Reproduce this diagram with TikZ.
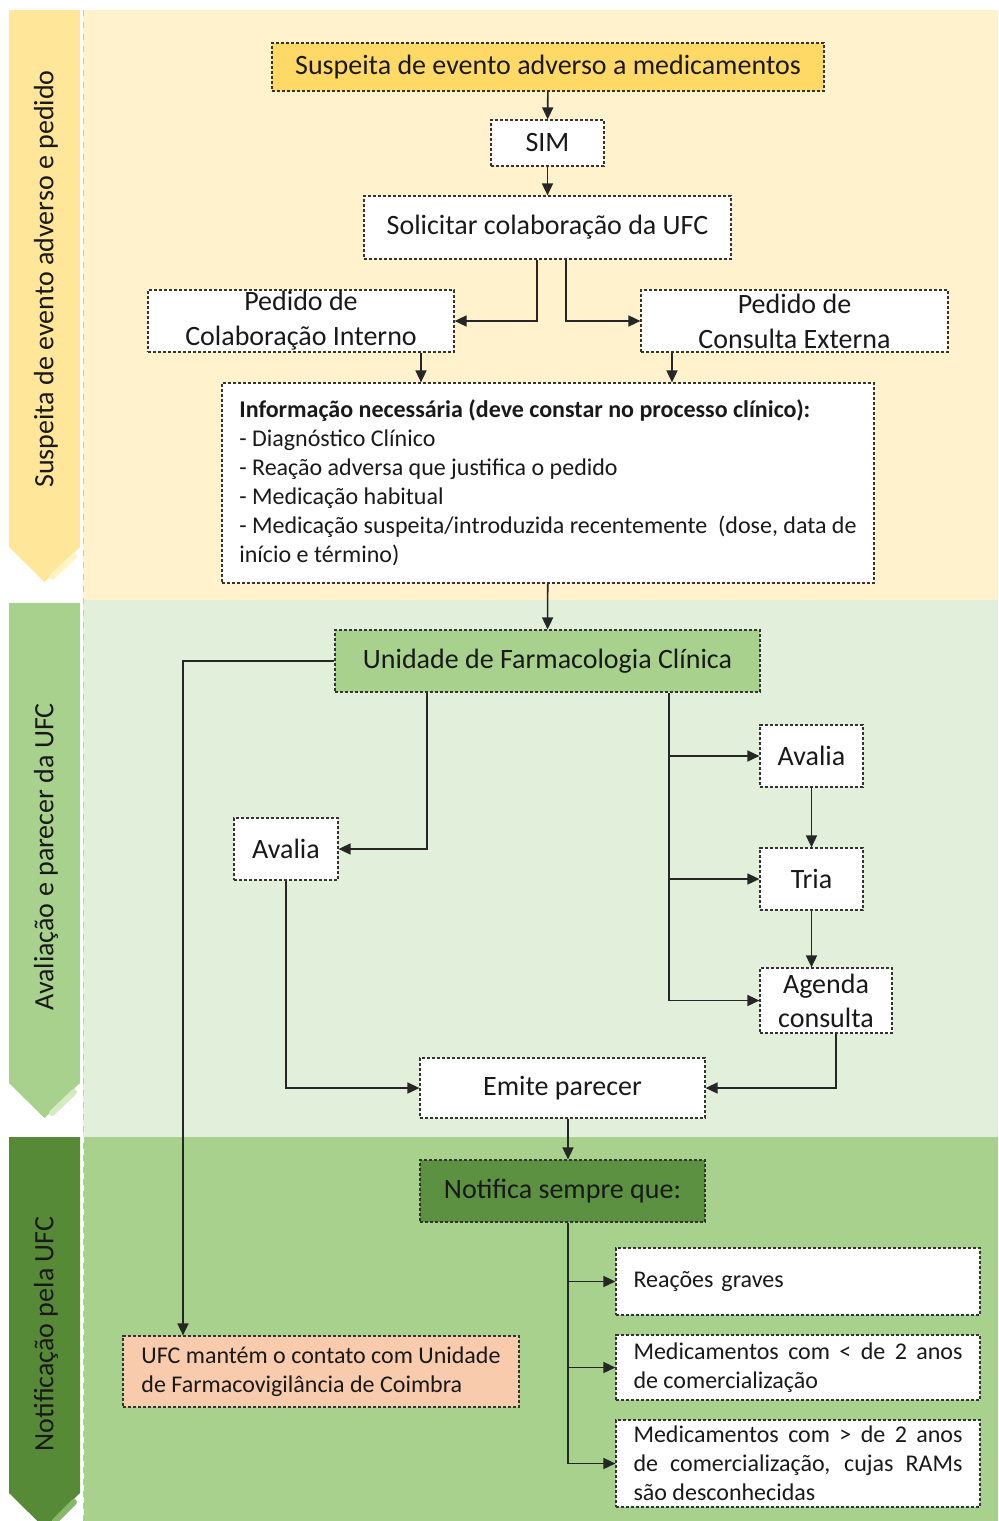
\documentclass[tikz,border=0pt]{standalone}
\usepackage{fontspec}
\setmainfont{Carlito}
\usetikzlibrary{arrows.meta,calc}
\definecolor{bandA}{HTML}{FFF2CC}
\definecolor{bandB}{HTML}{E2EFDA}
\definecolor{bandC}{HTML}{A9D18E}
\definecolor{chevA}{HTML}{FFE699}
\definecolor{chevAl}{HTML}{FFF4C2}
\definecolor{chevB}{HTML}{A9D18E}
\definecolor{chevBl}{HTML}{D2EBC0}
\definecolor{chevC}{HTML}{578A36}
\definecolor{chevCl}{HTML}{86B86A}
\definecolor{goldbox}{HTML}{FFD966}
\definecolor{ufcgreen}{HTML}{A9D18E}
\definecolor{notgreen}{HTML}{5B9140}
\definecolor{peach}{HTML}{F8CBAD}
\definecolor{sepblue}{HTML}{B4C7E7}
\tikzset{
  box/.style={draw=black!80, dash pattern=on 1.6pt off 0.9pt, line width=0.6pt,
    fill=white, inner sep=0pt, font=\fontsize{14}{17.5}\selectfont, text=black!90, align=center},
  arr/.style={draw=black!85, line width=0.8pt, -{Triangle[length=6pt,width=5.5pt]}},
  lanelabel/.style={font=\fontsize{14}{17}\selectfont, rotate=90, text=black!90, inner sep=0pt},
  smalltext/.style={font=\fontsize{12}{14.5}\selectfont}
}
\begin{document}
\begin{tikzpicture}[x=0.5pt,y=-0.5pt]
\useasboundingbox (0,0) rectangle (998,1521);
\fill[white] (0,0) rectangle (998,1521);
% lanes backgrounds
\fill[bandA] (83,10) rectangle (998,600);
\fill[bandB] (83,600) rectangle (998,1137);
\fill[bandC] (83,1137) rectangle (998,1521);
\draw[sepblue, dashed, line width=0.4pt] (83,10) -- (83,1137);
\draw[white, dashed, line width=0.4pt] (83,1137) -- (83,1521);
% chevrons
\fill[chevA] (9,10) -- (80,10) -- (80,547) -- (44.5,582) -- (9,547) -- cycle;
\draw[chevAl, line width=3pt, line cap=round] (74,556) -- (52,577);
\fill[chevB] (9,603) -- (80,603) -- (80,1083) -- (44.5,1118) -- (9,1083) -- cycle;
\draw[chevBl, line width=3pt, line cap=round] (74,1092) -- (52,1113);
\begin{scope}
\clip (0,0) rectangle (998,1521);
\fill[chevC] (9,1137) -- (80,1137) -- (80,1493) -- (44.5,1528) -- (9,1493) -- cycle;
\draw[chevCl, line width=3pt, line cap=round] (74,1502) -- (55,1521);
\end{scope}
\node[lanelabel] (l1) at (46,279) {Suspeita de evento adverso e pedido};
\node[lanelabel] (l2) at (46,857) {Avaliação e parecer da UFC};
\node[lanelabel] (l3) at (46,1334) {Notificação pela UFC};

% nodes
\node[box, fill=goldbox, minimum width=276pt, minimum height=24pt] (top) at (548,67) {Suspeita de evento adverso a medicamentos};
\node[box, minimum width=56.5pt, minimum height=23pt] (sim) at (547.5,143) {SIM};
\node[box, minimum width=183.5pt, minimum height=31.5pt] (sol) at (547.5,227.5) {Solicitar colaboração da UFC};
\node[box, minimum width=153pt, minimum height=31pt] (pint) at (301,321) {Pedido de\\Colaboração Interno};
\node[box, minimum width=153.5pt, minimum height=31pt] (pext) at (794.5,321) {Pedido de\\Consulta Externa};
\node[box, smalltext, align=left, minimum width=326pt, minimum height=100pt] (info) at (548,483)
 {\textbf{Informação necessária (deve constar no processo clínico):}\\
  - Diagnóstico Clínico\\
  - Reação adversa que justifica o pedido\\
  - Medicação habitual\\
  - Medicação suspeita/introduzida recentemente\ \ (dose, data de\\
  início e término)};
\node[box, fill=ufcgreen, minimum width=212.5pt, minimum height=31pt] (ufc) at (547.5,661) {Unidade de Farmacologia Clínica};
\node[box, minimum width=51.5pt, minimum height=31pt] (av2) at (811.5,756) {Avalia};
\node[box, minimum width=51.5pt, minimum height=31pt] (tria) at (811.5,879) {Tria};
\node[box, minimum width=66pt, minimum height=32.5pt, font=\fontsize{14}{17}\selectfont] (agenda) at (826,1000.5) {Agenda\\consulta};
\node[box, minimum width=52pt, minimum height=31pt] (av1) at (286,849) {Avalia};
\node[box, minimum width=142.5pt, minimum height=30pt] (emite) at (562.5,1088) {Emite parecer};
\node[box, fill=notgreen, minimum width=142.5pt, minimum height=31pt] (notif) at (562.5,1191) {Notifica sempre que:};
\node[box, smalltext, align=left, text width=164.5pt, inner xsep=8.75pt, minimum height=33.5pt] (reac) at (798,1281.5) {Reações graves};
\node[box, smalltext, align=justify, text width=164.5pt, inner xsep=8.75pt, minimum height=32.5pt] (m1) at (798,1367.5)
 {Medicamentos com < de 2 anos\linebreak de comercialização};
\node[box, smalltext, align=justify, text width=164.5pt, inner xsep=8.75pt, minimum height=43.5pt] (m2) at (798,1463.5)
 {Medicamentos com > de 2 anos\linebreak de comercialização, cujas RAMs\linebreak são desconhecidas};
\node[box, smalltext, fill=peach, align=left, minimum width=198pt, minimum height=35.5pt] (ufcm) at (321,1371.5)
 {UFC mantém o contato com Unidade\\de Farmacovigilância de Coimbra};

% connectors
\draw[arr] (top) -- (sim);
\draw[arr] (sim) -- (sol);
\draw[arr] ($(sol.south)+(-10.5,0)$) |- (pint.east);
\draw[arr] ($(sol.south)+(18.5,0)$) |- (pext.west);
\coordinate (pa) at ($(pint.south)+(120,0)$);
\draw[arr] (pa) -- (pa |- info.north);
\coordinate (pb) at ($(pext.south)+(-122.5,0)$);
\draw[arr] (pb) -- (pb |- info.north);
\draw[arr] (info) -- (ufc);
\draw[arr] (ufc.west) -| ($(ufcm.north)+(-138,0)$);
\draw[arr] ($(ufc.south)+(-120.5,0)$) |- (av1.east);
\coordinate (ub) at ($(ufc.south)+(121.5,0)$);
\draw[arr] (ub) |- (agenda.west);
\draw[arr] (ub |- av2.west) -- (av2.west);
\draw[arr] (ub |- tria.west) -- (tria.west);
\draw[arr] (av2) -- (tria);
\draw[arr] (tria.south) -- (tria.south |- agenda.north);
\draw[arr] (av1.south) |- (emite.west);
\draw[arr] ($(agenda.south)+(10,0)$) |- (emite.east);
\coordinate (ec) at ($(emite.south)+(5.5,0)$);
\draw[arr] (ec) -- (ec |- notif.north);
\coordinate (nd) at ($(notif.south)+(5.5,0)$);
\draw[arr] (nd) |- (m2.west);
\draw[arr] (nd |- reac.west) -- (reac.west);
\draw[arr] (nd |- m1.west) -- (m1.west);
\end{tikzpicture}
\end{document}
